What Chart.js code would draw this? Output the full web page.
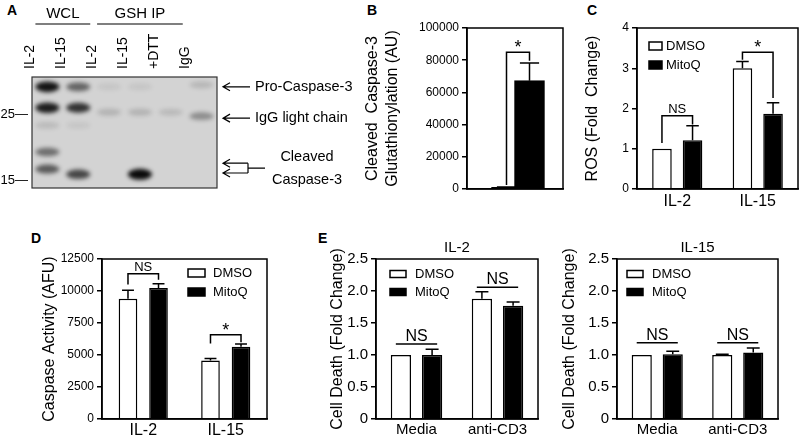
<!DOCTYPE html>
<html>
<head>
<meta charset="utf-8">
<script src="https://cdn.jsdelivr.net/npm/chart.js@4.4.0/dist/chart.umd.min.js"></script>
<style>
body{margin:0;background:#fff;width:800px;height:440px;position:relative;overflow:hidden;font-family:"Liberation Sans",Arial,sans-serif}
canvas{position:absolute}
.tag{position:absolute;font-weight:bold;font-size:14px;color:#000}
</style>
</head>
<body>
<div class="tag" style="left:7px;top:2px">A</div>
<div class="tag" style="left:367px;top:2px">B</div>
<div class="tag" style="left:587px;top:2px">C</div>
<div class="tag" style="left:31px;top:230px">D</div>
<div class="tag" style="left:318px;top:230px">E</div>

<canvas id="blot" width="360" height="200" style="left:0;top:0"></canvas>
<canvas id="chartB" width="210" height="215" style="left:362px;top:0"></canvas>
<canvas id="chartC" width="218" height="215" style="left:582px;top:0"></canvas>
<canvas id="chartD" width="240" height="215" style="left:38px;top:225px"></canvas>
<canvas id="chartE1" width="219" height="215" style="left:326px;top:225px"></canvas>
<canvas id="chartE2" width="242" height="215" style="left:558px;top:225px"></canvas>

<script>
var FONT = '"Liberation Sans", Arial, sans-serif';
Chart.defaults.font.family = FONT;
Chart.defaults.color = '#000';

// A: western blot
var blotLanes = ['IL-2', 'IL-15', 'IL-2', 'IL-15', '+DTT', 'IgG'];
var blotGroups = [['WCL', 0, 1], ['GSH IP', 2, 4]];
var mwTicks = [15, 25];
// lane, kDa, intensity
var bands = [
    [0, 29.3, 0.95], [1, 29.3, 0.55], [2, 29.3, 0.07], [3, 29.3, 0.07], [5, 29.6, 0.14],
    [0, 26.1, 0.9], [1, 26.1, 0.8],
    [2, 25.4, 0.16], [3, 25.4, 0.16], [4, 25.4, 0.13], [5, 24.8, 0.35],
    [0, 23.4, 0.12], [1, 23.4, 0.07],
    [0, 19.3, 0.5],
    [0, 16.7, 0.6], [1, 15.9, 0.7], [3, 15.9, 1.0]
];
var blotMarkers = ['Pro-Caspase-3', 'IgG light chain'];
var blotMarkerKDa = [29.3, 24.5];
var cleavedLabel = ['Cleaved', 'Caspase-3'];
var cleavedKDa = [17.6, 16.1];

// B
var catB = ['IL-2', 'IL-15'];
var valB = [1000, 67300];
var errB = [300, 11000];

// C
var catC = ['IL-2', 'IL-15'];
var dmsoC = [1.0, 3.0];
var dmsoErrC = [0, 0.17];
var mitoC = [1.21, 1.87];
var mitoErrC = [0.36, 0.27];

// D
var catD = ['IL-2', 'IL-15'];
var dmsoD = [9400, 4580];
var dmsoErrD = [650, 150];
var mitoD = [10230, 5650];
var mitoErrD = [340, 200];

// E
var catE = ['Media', 'anti-CD3'];
var dmsoE1 = [1.0, 1.88];
var dmsoErrE1 = [0, 0.11];
var mitoE1 = [1.0, 1.77];
var mitoErrE1 = [0.09, 0.06];
var dmsoE2 = [1.0, 1.0];
var dmsoErrE2 = [0, 0.01];
var mitoE2 = [1.01, 1.04];
var mitoErrE2 = [0.05, 0.07];

var frame = {
    id: 'frame',
    afterDatasetsDraw: function (chart) {
        var ctx = chart.ctx, a = chart.chartArea;
        ctx.save();
        ctx.strokeStyle = '#000';
        ctx.lineWidth = 1.5;
        ctx.strokeRect(a.left, a.top, a.right - a.left, a.bottom - a.top);
        ctx.restore();
    }
};

var errorBars = {
    id: 'errorBars',
    afterDatasetsDraw: function (chart) {
        var ctx = chart.ctx, ys = chart.scales.y;
        chart.data.datasets.forEach(function (ds, di) {
            if (!ds.errors) return;
            chart.getDatasetMeta(di).data.forEach(function (bar, i) {
                if (!ds.errors[i]) return;
                var v = ds.data[i];
                if (typeof v === 'object') v = v.y;
                var top = ys.getPixelForValue(v + ds.errors[i]);
                var half = bar.width * 0.32;
                ctx.save();
                ctx.strokeStyle = '#000';
                ctx.lineWidth = 1.5;
                ctx.beginPath();
                ctx.moveTo(bar.x, bar.y);
                ctx.lineTo(bar.x, top);
                ctx.moveTo(bar.x - half, top);
                ctx.lineTo(bar.x + half, top);
                ctx.stroke();
                ctx.restore();
            });
        });
    }
};

var brackets = {
    id: 'brackets',
    afterDatasetsDraw: function (chart, args, o) {
        if (!o.items) return;
        var ctx = chart.ctx, ys = chart.scales.y;
        o.items.forEach(function (b) {
            var ea = chart.getDatasetMeta(b.a[0]).data[b.a[1]];
            var eb = chart.getDatasetMeta(b.b[0]).data[b.b[1]];
            var x1 = ea.x, x2 = eb.x, yt = ys.getPixelForValue(b.top);
            ctx.save();
            ctx.strokeStyle = '#000';
            ctx.lineWidth = 1.5;
            ctx.beginPath();
            if (b.legA != null) {
                ctx.moveTo(x1, ys.getPixelForValue(b.legA));
                ctx.lineTo(x1, yt);
                ctx.lineTo(x2, yt);
                ctx.lineTo(x2, ys.getPixelForValue(b.legB));
            } else {
                x1 -= ea.width * 0.25;
                x2 += eb.width * 0.25;
                ctx.moveTo(x1, yt);
                ctx.lineTo(x2, yt);
            }
            ctx.stroke();
            ctx.fillStyle = '#000';
            ctx.textAlign = 'center';
            ctx.textBaseline = 'alphabetic';
            if (b.text === '*') {
                ctx.font = '18px ' + FONT;
                ctx.fillText('*', (x1 + x2) / 2, yt + 1);
            } else {
                ctx.font = o.size + 'px ' + FONT;
                ctx.fillText(b.text, (x1 + x2) / 2, yt - 3);
            }
            ctx.restore();
        });
    }
};

var boxLegend = {
    id: 'boxLegend',
    afterDraw: function (chart, args, o) {
        if (o.x == null) return;
        var ctx = chart.ctx, a = chart.chartArea;
        ctx.save();
        chart.data.datasets.forEach(function (ds, i) {
            var bx = a.left + o.x, cy = a.top + o.y + i * o.gap;
            ctx.fillStyle = ds.backgroundColor;
            ctx.fillRect(bx, cy - o.h / 2, o.w, o.h);
            ctx.strokeStyle = '#000';
            ctx.lineWidth = 1.5;
            ctx.strokeRect(bx, cy - o.h / 2, o.w, o.h);
            ctx.fillStyle = '#000';
            ctx.font = o.size + 'px ' + FONT;
            ctx.textAlign = 'left';
            ctx.textBaseline = 'middle';
            ctx.fillText(ds.label, bx + o.w + o.pad, cy);
        });
        ctx.restore();
    }
};

function yAxis(max, step, width, title, tickSize, titlePad, fmt) {
    return {
        min: 0, max: max,
        afterFit: function (s) { s.width = width; },
        ticks: {stepSize: step, color: '#000', font: {size: tickSize}, padding: 3, callback: fmt},
        grid: {display: true, drawOnChartArea: false, drawTicks: true, tickLength: 5, color: '#000', lineWidth: 1.5},
        border: {display: true, color: '#000', width: 1.5},
        title: {display: true, text: title, color: '#000', font: {size: 16}, padding: {top: titlePad, bottom: 0}}
    };
}

function xAxis(height, size, pad) {
    return {
        afterFit: function (s) { s.height = height; },
        ticks: {color: '#000', font: {size: size}, padding: pad, maxRotation: 0, autoSkip: false},
        grid: {display: false, drawTicks: false},
        border: {display: true, color: '#000', width: 1.5}
    };
}

function pairSets(dmso, dmsoErr, mito, mitoErr) {
    return [
        {label: 'DMSO', data: dmso, errors: dmsoErr, backgroundColor: '#fff', borderColor: '#000', borderWidth: 1.5},
        {label: 'MitoQ', data: mito, errors: mitoErr, backgroundColor: '#000', borderColor: '#000', borderWidth: 1.5}
    ];
}

var plain = function (v) { return String(v); };
var oneDec = function (v) { return v === 0 ? '0' : v.toFixed(1); };

// ---- A ----
var blotPlugin = {
    id: 'blotPlugin',
    beforeDatasetsDraw: function (chart) {
        var ctx = chart.ctx, a = chart.chartArea, xs = chart.scales.x, ys = chart.scales.y;
        ctx.save();
        ctx.fillStyle = '#d3d3d3';
        ctx.fillRect(a.left, a.top, a.right - a.left, a.bottom - a.top);
        ctx.beginPath();
        ctx.rect(a.left, a.top, a.right - a.left, a.bottom - a.top);
        ctx.clip();
        ctx.filter = 'blur(2px)';
        bands.forEach(function (b) {
            var x = xs.getPixelForValue(b[0]), y = ys.getPixelForValue(b[1]);
            ctx.fillStyle = 'rgba(10,10,10,' + b[2] + ')';
            ctx.beginPath();
            ctx.ellipse(x, y, 12, 3 + b[2] * 2.5, 0, 0, Math.PI * 2);
            ctx.fill();
        });
        ctx.restore();
        ctx.save();
        ctx.strokeStyle = '#333';
        ctx.lineWidth = 1.2;
        ctx.strokeRect(a.left, a.top, a.right - a.left, a.bottom - a.top);
        ctx.restore();
    },
    afterDraw: function (chart) {
        var ctx = chart.ctx, a = chart.chartArea, xs = chart.scales.x, ys = chart.scales.y;
        ctx.save();
        ctx.fillStyle = '#000';
        ctx.strokeStyle = '#000';
        ctx.lineWidth = 1.2;
        ctx.font = '15px ' + FONT;
        ctx.textAlign = 'center';
        ctx.textBaseline = 'middle';
        blotGroups.forEach(function (g) {
            var x1 = xs.getPixelForValue(g[1]) - 12, x2 = xs.getPixelForValue(g[2]) + 12;
            ctx.fillText(g[0], (x1 + x2) / 2, 14);
            ctx.beginPath();
            ctx.moveTo(x1, 24);
            ctx.lineTo(x2, 24);
            ctx.stroke();
        });
        function arrow(tip, tail, y) {
            ctx.beginPath();
            ctx.moveTo(tail, y);
            ctx.lineTo(tip, y);
            ctx.moveTo(tip + 7, y - 4);
            ctx.lineTo(tip, y);
            ctx.lineTo(tip + 7, y + 4);
            ctx.stroke();
        }
        var tip = a.right + 6, tail = a.right + 33;
        ctx.font = '14.5px ' + FONT;
        ctx.textAlign = 'left';
        blotMarkers.forEach(function (t, i) {
            var y = ys.getPixelForValue(blotMarkerKDa[i]);
            arrow(tip, tail, y);
            ctx.fillText(t, a.right + 38, y);
        });
        var y1 = ys.getPixelForValue(cleavedKDa[0]), y2 = ys.getPixelForValue(cleavedKDa[1]);
        arrow(tip, tail - 2, y1);
        arrow(tip, tail - 2, y2);
        var mid = (y1 + y2) / 2;
        ctx.beginPath();
        ctx.moveTo(tail - 2, y1);
        ctx.lineTo(tail - 2, y2);
        ctx.moveTo(tail - 2, mid);
        ctx.lineTo(tail + 15, mid);
        ctx.stroke();
        ctx.textAlign = 'center';
        ctx.fillText(cleavedLabel[0], a.right + 90, mid - 11);
        ctx.fillText(cleavedLabel[1], a.right + 90, mid + 12);
        ctx.restore();
    }
};

new Chart(document.getElementById('blot'), {
    type: 'bar',
    data: {labels: blotLanes, datasets: []},
    options: {
        responsive: false, animation: false,
        layout: {padding: {top: 0, right: 143, bottom: 12, left: 0}},
        plugins: {legend: {display: false}, tooltip: {enabled: false}},
        scales: {
            x: {
                position: 'top',
                afterFit: function (s) { s.height = 77; },
                ticks: {minRotation: 90, maxRotation: 90, autoSkip: false, font: {size: 14}, color: '#000', padding: 8},
                grid: {display: false, drawTicks: false},
                border: {display: false}
            },
            y: {
                min: 13.8, max: 30.8,
                afterFit: function (s) { s.width = 32; },
                afterBuildTicks: function (s) { s.ticks = mwTicks.map(function (v) { return {value: v}; }); },
                ticks: {font: {size: 13}, color: '#000', padding: 4, callback: function (v) { return v + '\u2014'; }},
                grid: {display: false, drawTicks: false},
                border: {display: false}
            }
        }
    },
    plugins: [blotPlugin]
});

// ---- B ----
new Chart(document.getElementById('chartB'), {
    type: 'bar',
    data: {
        datasets: [{
            label: 'AU',
            data: valB.map(function (v, i) { return {x: i, y: v}; }),
            errors: errB,
            backgroundColor: '#000', borderColor: '#000', borderWidth: 1.5, barThickness: 30
        }]
    },
    options: {
        responsive: false, animation: false,
        layout: {padding: {top: 28, right: 9, bottom: 0, left: 0}},
        plugins: {
            legend: {display: false}, tooltip: {enabled: false},
            brackets: {size: 13, items: [{a: [0, 0], b: [0, 1], top: 85000, legA: 2500, legB: 79700, text: '*'}]}
        },
        scales: {
            x: Object.assign(xAxis(26, 16, 3), {
                type: 'linear', min: -0.674, max: 1.413,
                ticks: {stepSize: 1, color: '#000', font: {size: 16}, padding: 3, maxRotation: 0, autoSkip: false,
                    callback: function (v) { return catB[v] || ''; }}
            }),
            y: yAxis(100000, 20000, 105, ['Cleaved  Caspase-3', 'Glutathionylation (AU)'], 12, 1.4, plain)
        }
    },
    plugins: [errorBars, brackets, frame]
});

// ---- C ----
new Chart(document.getElementById('chartC'), {
    type: 'bar',
    data: {labels: catC, datasets: pairSets(dmsoC, dmsoErrC, mitoC, mitoErrC)},
    options: {
        responsive: false, animation: false,
        categoryPercentage: 0.76, barPercentage: 0.64,
        layout: {padding: {top: 28, right: 2, bottom: 0, left: 0}},
        plugins: {
            legend: {display: false}, tooltip: {enabled: false},
            boxLegend: {x: 12, y: 18, gap: 19, w: 13, h: 8, pad: 4, size: 13},
            brackets: {size: 13, items: [
                {a: [0, 0], b: [1, 0], top: 1.82, legA: 1.14, legB: 1.6, text: 'NS'},
                {a: [0, 1], b: [1, 1], top: 3.4, legA: 3.21, legB: 2.26, text: '*'}
            ]}
        },
        scales: {
            x: xAxis(26, 16, 3),
            y: yAxis(4, 1, 55, 'ROS (Fold  Change)', 12, 1.4, plain)
        }
    },
    plugins: [errorBars, brackets, frame, boxLegend]
});

// ---- D ----
new Chart(document.getElementById('chartD'), {
    type: 'bar',
    data: {labels: catD, datasets: pairSets(dmsoD, dmsoErrD, mitoD, mitoErrD)},
    options: {
        responsive: false, animation: false,
        categoryPercentage: 0.74, barPercentage: 0.61,
        layout: {padding: {top: 34, right: 11, bottom: 0, left: 0}},
        plugins: {
            legend: {display: false}, tooltip: {enabled: false},
            boxLegend: {x: 86, y: 14, gap: 19, w: 17, h: 8, pad: 8, size: 13},
            brackets: {size: 13, items: [
                {a: [0, 0], b: [1, 0], top: 11350, legA: 10500, legB: 10880, text: 'NS'},
                {a: [0, 1], b: [1, 1], top: 6590, legA: 5890, legB: 5990, text: '*'}
            ]}
        },
        scales: {
            x: xAxis(21, 16, 2),
            y: yAxis(12500, 2500, 64, 'Caspase Activity (AFU)', 12, 2.4, plain)
        }
    },
    plugins: [errorBars, brackets, frame, boxLegend]
});

// ---- E ----
function cellDeath(id, title, dmso, dmsoErr, mito, mitoErr, yWidth, padRight, legX, lines) {
    return new Chart(document.getElementById(id), {
        type: 'bar',
        data: {labels: catE, datasets: pairSets(dmso, dmsoErr, mito, mitoErr)},
        options: {
            responsive: false, animation: false,
            categoryPercentage: 0.77, barPercentage: 0.65,
            layout: {padding: {top: 14, right: padRight, bottom: 0, left: 0}},
            plugins: {
                legend: {display: false}, tooltip: {enabled: false},
                title: {display: true, text: title, fullSize: false, color: '#000', font: {size: 15, weight: 'normal'}, padding: {top: 0, bottom: 2}},
                boxLegend: {x: legX, y: 15, gap: 18, w: 16, h: 7, pad: 9, size: 13},
                brackets: {size: 16, items: lines}
            },
            scales: {
                x: xAxis(21, 15, 2),
                y: yAxis(2.5, 0.5, yWidth, 'Cell Death (Fold Change)', 15, 2.4, oneDec)
            }
        },
        plugins: [errorBars, brackets, frame, boxLegend]
    });
}

cellDeath('chartE1', 'IL-2', dmsoE1, dmsoErrE1, mitoE1, mitoErrE1, 50, 7, 14, [
    {a: [0, 0], b: [1, 0], top: 1.17, text: 'NS'},
    {a: [0, 1], b: [1, 1], top: 2.06, text: 'NS'}
]);
cellDeath('chartE2', 'IL-15', dmsoE2, dmsoErrE2, mitoE2, mitoErrE2, 59, 22, 10, [
    {a: [0, 0], b: [1, 0], top: 1.19, text: 'NS'},
    {a: [0, 1], b: [1, 1], top: 1.19, text: 'NS'}
]);
</script>
</body>
</html>
